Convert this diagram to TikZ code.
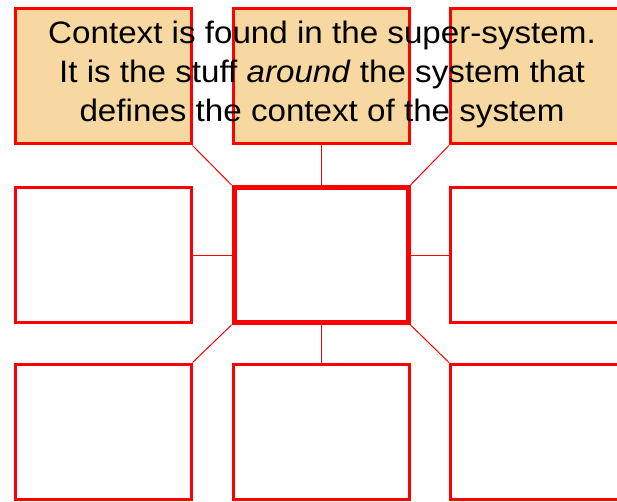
\documentclass[tikz,border=0pt]{standalone}
\usepackage{fontspec}
\setmainfont{Liberation Sans}[FakeStretch=1.07]
\definecolor{boxred}{RGB}{255,0,0}
\definecolor{boxtan}{RGB}{247,216,160}
\tikzset{
  cell/.style={draw=boxred, line width=3pt, minimum width=176pt, minimum height=135pt, inner sep=0pt, fill=white},
  tancell/.style={cell, fill=boxtan},
  centercell/.style={cell, line width=5pt, minimum width=174pt, minimum height=135pt},
  link/.style={draw=boxred, line width=1pt},
  caption/.style={align=center, font=\fontsize{31}{39}\selectfont, inner sep=0pt}
}
\begin{document}
\begin{tikzpicture}[x=1pt, y=-1pt]
\useasboundingbox (0,0) rectangle (617,502);
\node[tancell] (tl) at (103,76.5) {};
\node[tancell] (tm) at (321,76.5) {};
\node[tancell] (tr) at (538.5,76.5) {};
\node[cell] (ml) at (103,255) {};
\node[centercell] (c) at (321,255) {};
\node[cell] (mr) at (538.5,255) {};
\node[cell] (bl) at (103,431.5) {};
\node[cell] (bm) at (321,431.5) {};
\node[cell] (br) at (538.5,431.5) {};
\draw[link] (tl.south east) -- (c.north west);
\draw[link] (tm.south) -- (c.north);
\draw[link] (tr.south west) -- (c.north east);
\draw[link] (ml.east) -- (c.west);
\draw[link] (mr.west) -- (c.east);
\draw[link] (bl.north east) -- (c.south west);
\draw[link] (bm.north) -- (c.south);
\draw[link] (br.north west) -- (c.south east);
\node[caption] (txt) at (322,74.5) {Context is found in the super-system.\\It is the stuff \textit{around} the system that\\defines the context of the system};
\end{tikzpicture}
\end{document}
